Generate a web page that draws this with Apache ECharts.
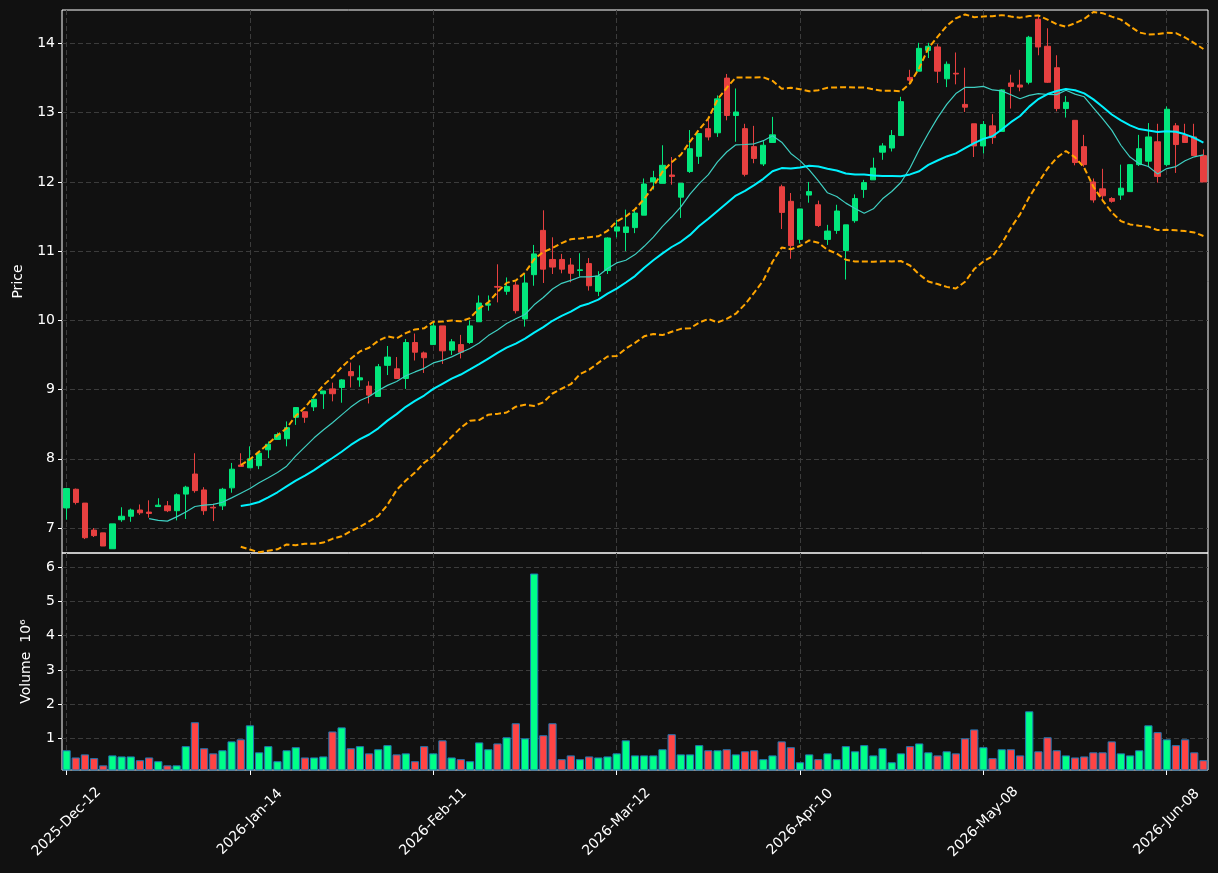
<!DOCTYPE html>
<html>
<head>
<meta charset="utf-8">
<title>Price and volume</title>
<script src="https://cdn.jsdelivr.net/npm/echarts@6/dist/echarts.min.js"></script>
<style>
html, body { margin: 0; padding: 0; background: #111111; }
#chart { width: 1218px; height: 873px; }
</style>
</head>
<body>
<div id="chart"></div>
<script>
// daily candles
var opens = [7.29, 7.56, 7.36, 6.97, 6.93, 6.70, 7.12, 7.17, 7.26, 7.23,
    7.31, 7.32, 7.25, 7.49, 7.78, 7.55, 7.30, 7.32, 7.58, 7.91,
    7.87, 7.90, 8.13, 8.28, 8.29, 8.60, 8.68, 8.75, 8.94, 9.01,
    9.03, 9.26, 9.14, 9.05, 8.90, 9.35, 9.30, 9.16, 9.68, 9.53,
    9.65, 9.92, 9.57, 9.65, 9.68, 9.98, 10.22, 10.49, 10.42, 10.51,
    10.02, 10.66, 11.30, 10.88, 10.88, 10.80, 10.72, 10.82, 10.42, 10.72,
    11.29, 11.27, 11.34, 11.52, 12.00, 11.98, 12.10, 11.78, 12.15, 12.37,
    12.77, 12.71, 13.50, 12.96, 12.77, 12.51, 12.26, 12.57, 11.93, 11.72,
    11.17, 11.81, 11.67, 11.17, 11.30, 11.01, 11.44, 11.89, 12.03, 12.43,
    12.49, 12.67, 13.51, 13.60, 13.90, 13.95, 13.49, 13.57, 13.12, 12.84,
    12.52, 12.81, 12.73, 13.43, 13.40, 13.44, 14.35, 13.96, 13.65, 13.06,
    12.89, 12.51, 12.00, 11.90, 11.76, 11.81, 11.86, 12.25, 12.30, 12.58,
    12.25, 12.81, 12.67, 12.65, 12.38];
var highs = [7.58, 7.57, 7.36, 7.00, 6.93, 7.06, 7.30, 7.28, 7.34, 7.40,
    7.43, 7.39, 7.50, 7.61, 8.08, 7.59, 7.35, 7.58, 7.94, 8.08,
    8.18, 8.08, 8.25, 8.38, 8.54, 8.74, 8.68, 8.86, 8.98, 9.10,
    9.15, 9.39, 9.35, 9.12, 9.37, 9.63, 9.47, 9.73, 9.81, 9.55,
    9.98, 9.92, 9.73, 9.79, 10.00, 10.36, 10.36, 10.81, 10.62, 10.56,
    10.67, 11.09, 11.59, 11.20, 10.96, 10.90, 10.97, 10.90, 10.71, 11.20,
    11.45, 11.60, 11.61, 12.05, 12.16, 12.53, 12.36, 11.98, 12.75, 12.70,
    12.90, 13.25, 13.56, 13.35, 12.84, 12.81, 12.59, 12.94, 11.96, 11.84,
    11.61, 12.00, 11.73, 11.38, 11.67, 11.38, 11.82, 12.03, 12.35, 12.56,
    12.75, 13.23, 13.62, 14.01, 14.01, 13.99, 13.74, 13.87, 13.65, 12.84,
    12.88, 12.98, 13.34, 13.55, 13.62, 14.11, 14.41, 14.22, 13.83, 13.24,
    12.89, 12.68, 12.05, 12.19, 11.78, 12.25, 12.25, 12.68, 12.85, 12.84,
    13.09, 12.85, 12.84, 12.84, 12.47];
var lows = [7.12, 7.34, 6.84, 6.87, 6.74, 6.70, 7.09, 7.09, 7.19, 7.15,
    7.31, 7.23, 7.11, 7.13, 7.51, 7.19, 7.10, 7.26, 7.51, 7.89,
    7.87, 7.85, 8.01, 8.28, 8.18, 8.49, 8.52, 8.69, 8.72, 8.83,
    8.81, 9.03, 9.04, 8.80, 8.90, 9.21, 9.16, 9.01, 9.42, 9.24,
    9.65, 9.37, 9.50, 9.45, 9.66, 9.98, 10.14, 10.26, 10.37, 10.10,
    9.91, 10.50, 10.54, 10.67, 10.68, 10.55, 10.63, 10.43, 10.35, 10.67,
    11.20, 11.00, 11.26, 11.52, 11.89, 11.98, 11.96, 11.48, 12.13, 12.26,
    12.60, 12.65, 12.89, 12.58, 12.08, 12.27, 12.23, 12.57, 11.32, 10.89,
    11.11, 11.70, 11.35, 11.09, 11.25, 10.59, 11.41, 11.77, 12.03, 12.32,
    12.44, 12.67, 13.42, 13.60, 13.79, 13.43, 13.37, 13.41, 13.01, 12.36,
    12.41, 12.55, 12.73, 13.06, 13.31, 13.41, 13.83, 13.43, 13.02, 12.93,
    12.24, 12.22, 11.70, 11.75, 11.70, 11.74, 11.86, 12.23, 12.23, 11.99,
    12.23, 12.13, 12.57, 12.38, 12.00];
var closes = [7.57, 7.37, 6.86, 6.89, 6.74, 7.06, 7.17, 7.26, 7.22, 7.21,
    7.33, 7.25, 7.48, 7.59, 7.54, 7.25, 7.29, 7.56, 7.85, 7.89,
    8.00, 8.08, 8.21, 8.35, 8.45, 8.74, 8.60, 8.86, 8.98, 8.94,
    9.14, 9.20, 9.17, 8.92, 9.33, 9.47, 9.16, 9.68, 9.54, 9.46,
    9.92, 9.56, 9.69, 9.54, 9.92, 10.25, 10.24, 10.48, 10.49, 10.14,
    10.54, 10.96, 10.74, 10.77, 10.74, 10.68, 10.73, 10.50, 10.64, 11.19,
    11.35, 11.35, 11.55, 11.97, 12.06, 12.24, 12.08, 11.98, 12.48, 12.70,
    12.65, 13.20, 12.96, 13.01, 12.11, 12.34, 12.53, 12.68, 11.56, 11.08,
    11.61, 11.86, 11.37, 11.29, 11.58, 11.38, 11.76, 11.99, 12.20, 12.52,
    12.67, 13.16, 13.47, 13.93, 13.96, 13.60, 13.70, 13.56, 13.08, 12.52,
    12.83, 12.64, 13.33, 13.38, 13.37, 14.09, 13.95, 13.44, 13.06, 13.15,
    12.28, 12.25, 11.74, 11.80, 11.72, 11.91, 12.25, 12.48, 12.65, 12.08,
    13.05, 12.54, 12.57, 12.38, 12.00];
// volume in millions (axis offset 10^6)
var volumes = [0.65, 0.44, 0.53, 0.42, 0.21, 0.50, 0.47, 0.47, 0.36, 0.44,
    0.33, 0.21, 0.21, 0.77, 1.47, 0.71, 0.56, 0.65, 0.91, 0.97,
    1.38, 0.59, 0.77, 0.33, 0.65, 0.74, 0.44, 0.44, 0.47, 1.20,
    1.32, 0.71, 0.77, 0.56, 0.68, 0.80, 0.53, 0.56, 0.33, 0.77,
    0.56, 0.94, 0.44, 0.39, 0.33, 0.88, 0.68, 0.85, 1.03, 1.44,
    1.00, 5.82, 1.09, 1.44, 0.39, 0.50, 0.39, 0.47, 0.44, 0.47,
    0.56, 0.94, 0.50, 0.50, 0.50, 0.68, 1.12, 0.53, 0.53, 0.80,
    0.65, 0.65, 0.68, 0.53, 0.62, 0.65, 0.39, 0.50, 0.91, 0.74,
    0.30, 0.53, 0.39, 0.56, 0.39, 0.77, 0.62, 0.80, 0.50, 0.71,
    0.30, 0.56, 0.77, 0.85, 0.59, 0.50, 0.62, 0.56, 1.00, 1.26,
    0.74, 0.42, 0.68, 0.68, 0.50, 1.79, 0.62, 1.03, 0.65, 0.50,
    0.44, 0.47, 0.59, 0.59, 0.91, 0.56, 0.50, 0.65, 1.38, 1.18,
    0.97, 0.80, 0.97, 0.59, 0.36];
var tickLabels = ['2025-Dec-12', '2026-Jan-14', '2026-Feb-11', '2026-Mar-12',
    '2026-Apr-10', '2026-May-08', '2026-Jun-08'];
var tickStep = 20;

var UP = '#00ff88', DOWN = '#ff4444';
var UP_C = '#02e77c', DOWN_C = '#e74040';
var TXT = '#ffffff';
var FONT = 'DejaVu Sans';

function sma(n) {
    return closes.map(function(c, i) {
        if (i < n - 1) return '-';
        var s = 0;
        for (var j = i - n + 1; j <= i; j++) s += closes[j];
        return s / n;
    });
}
function band(n, k) {
    return closes.map(function(c, i) {
        if (i < n - 1) return '-';
        var s = 0, q = 0;
        for (var j = i - n + 1; j <= i; j++) s += closes[j];
        var m = s / n;
        for (var j2 = i - n + 1; j2 <= i; j2++) q += (closes[j2] - m) * (closes[j2] - m);
        return m + k * Math.sqrt(q / n);
    });
}

var cats = closes.map(function(c, i) { return i; });
var candles = closes.map(function(c, i) { return [opens[i], c, lows[i], highs[i]]; });
var volData = volumes.map(function(v, i) {
    return { value: v, itemStyle: { color: closes[i] >= opens[i] ? UP : DOWN } };
});

function onTick(i) { return i % tickStep === 0; }
function intLabel(v) { return Math.abs(v - Math.round(v)) < 1e-6 ? String(Math.round(v)) : ''; }
var gridLine = { color: '#3c3c3c', type: [5, 3], width: 1 };

var chart = echarts.init(document.getElementById('chart'));
chart.setOption({
    animation: false,
    backgroundColor: '#111111',
    grid: [
        { left: 62, top: 10, width: 1146, height: 543, show: true, borderColor: '#ffffff', borderWidth: 1 },
        { left: 62, top: 553, width: 1146, height: 217, show: true, borderColor: '#ffffff', borderWidth: 1 }
    ],
    xAxis: [
        {
            type: 'category', gridIndex: 0, data: cats, boundaryGap: true,
            axisLine: { show: false }, axisTick: { show: false }, axisLabel: { show: false },
            splitLine: { show: true, interval: onTick, alignWithLabel: true, lineStyle: gridLine }
        },
        {
            type: 'category', gridIndex: 1, data: cats, boundaryGap: true,
            axisLine: { show: false },
            axisTick: { show: true, interval: onTick, alignWithLabel: true, length: 5, lineStyle: { color: TXT } },
            axisLabel: {
                interval: onTick, rotate: 45, align: 'center', verticalAlign: 'middle', margin: 52,
                color: TXT, fontSize: 14, fontFamily: FONT,
                formatter: function(v, i) { return tickLabels[i / tickStep]; }
            },
            splitLine: { show: true, interval: onTick, alignWithLabel: true, lineStyle: gridLine }
        }
    ],
    yAxis: [
        {
            type: 'value', gridIndex: 0, min: 6.639, max: 14.484, splitNumber: 8,
            name: 'Price', nameLocation: 'middle', nameGap: 37,
            nameTextStyle: { color: TXT, fontSize: 14, fontFamily: FONT },
            axisLine: { show: false },
            axisTick: { show: true, length: 4, lineStyle: { color: TXT } },
            axisLabel: {
                color: TXT, fontSize: 14, fontFamily: FONT, margin: 7,
                showMinLabel: false, showMaxLabel: false, formatter: intLabel
            },
            splitLine: { show: true, showMinLine: false, showMaxLine: false, lineStyle: gridLine }
        },
        {
            type: 'value', gridIndex: 1, min: 0.073, max: 6.42, splitNumber: 6,
            name: 'Volume  10\u2076', nameLocation: 'middle', nameGap: 29,
            nameTextStyle: { color: TXT, fontSize: 14, fontFamily: FONT },
            axisLine: { show: false },
            axisTick: { show: true, length: 4, lineStyle: { color: TXT } },
            axisLabel: {
                color: TXT, fontSize: 14, fontFamily: FONT, margin: 7,
                showMinLabel: false, showMaxLabel: false, formatter: intLabel
            },
            splitLine: { show: true, showMinLine: false, showMaxLine: false, lineStyle: gridLine }
        }
    ],
    series: [
        {
            type: 'candlestick', xAxisIndex: 0, yAxisIndex: 0, data: candles, barWidth: '62%',
            itemStyle: { color: UP_C, color0: DOWN_C, borderColor: UP_C, borderColor0: DOWN_C, borderWidth: 1 }
        },
        {
            type: 'line', xAxisIndex: 0, yAxisIndex: 0, data: sma(10), showSymbol: false,
            lineStyle: { color: '#3fcfc2', width: 1.2 }
        },
        {
            type: 'line', xAxisIndex: 0, yAxisIndex: 0, data: sma(20), showSymbol: false,
            lineStyle: { color: '#00f2ff', width: 2 }
        },
        {
            type: 'line', xAxisIndex: 0, yAxisIndex: 0, data: band(20, 2), showSymbol: false,
            lineStyle: { color: '#ffa500', width: 2, type: [6, 3] }
        },
        {
            type: 'line', xAxisIndex: 0, yAxisIndex: 0, data: band(20, -2), showSymbol: false,
            lineStyle: { color: '#ffa500', width: 2, type: [6, 3] }
        },
        {
            type: 'bar', xAxisIndex: 1, yAxisIndex: 1, data: volData, barWidth: '90%',
            itemStyle: { borderColor: '#1f77b4', borderWidth: 1 }
        }
    ]
});
</script>
</body>
</html>
